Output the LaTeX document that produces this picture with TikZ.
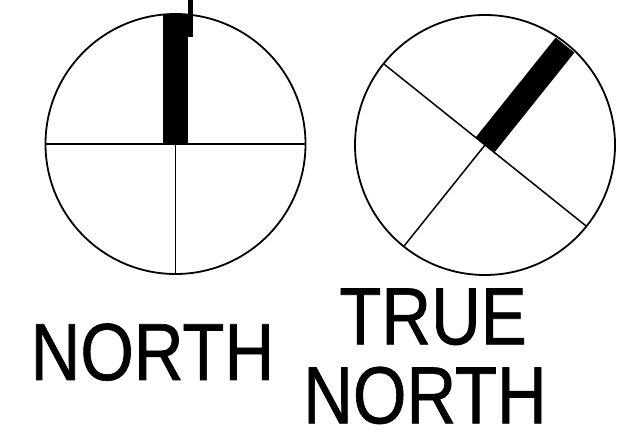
\documentclass[tikz,border=0pt]{standalone}
\usepackage{fontspec}
\newfontfamily\narrowsans[FakeStretch=0.85,FakeBold=0.8]{Liberation Sans}
\usetikzlibrary{calc}

\begin{document}
\begin{tikzpicture}[
  x=1pt,y=1pt,
  dial/.style={line width=1.8pt},
  cross/.style={line width=1.5pt},
  needle/.style={fill=black},
  lbl/.style={inner sep=0pt,anchor=base,font=\narrowsans\fontsize{81}{81}\selectfont}
]
\useasboundingbox (0,0) rectangle (617,438);
\coordinate (lc) at (175.5,294);
\coordinate (rc) at (485,293);
% plain north
\draw[dial] (lc) circle (130);
\draw[cross] ($(lc)+(-130,0)$) -- ($(lc)+(130,0)$);
\draw[cross] (lc) -- ($(lc)+(0,-130)$);
\fill[needle] ($(lc)+(-12.2,0)$) rectangle ($(lc)+(12.2,130)$);
\fill[needle] (187.7,401.3) rectangle (192.7,440);
% true north
\draw[dial] (rc) circle (130);
\draw[cross] ($(rc)+(141.3:130)$) -- ($(rc)+(-38.7:130)$);
\draw[cross] (rc) -- ($(rc)+(231.3:130)$);
\begin{scope}[shift={(rc)},rotate=51.3]
  \fill[needle] (0,-12) rectangle (128,12);
\end{scope}
\node[lbl] (north) at (152.4,58) {NORTH};
\node[lbl] (true) at (433,93.7) {TRUE};
\node[lbl] (truenorth) at (425,14.7) {NORTH};
\end{tikzpicture}
\end{document}
